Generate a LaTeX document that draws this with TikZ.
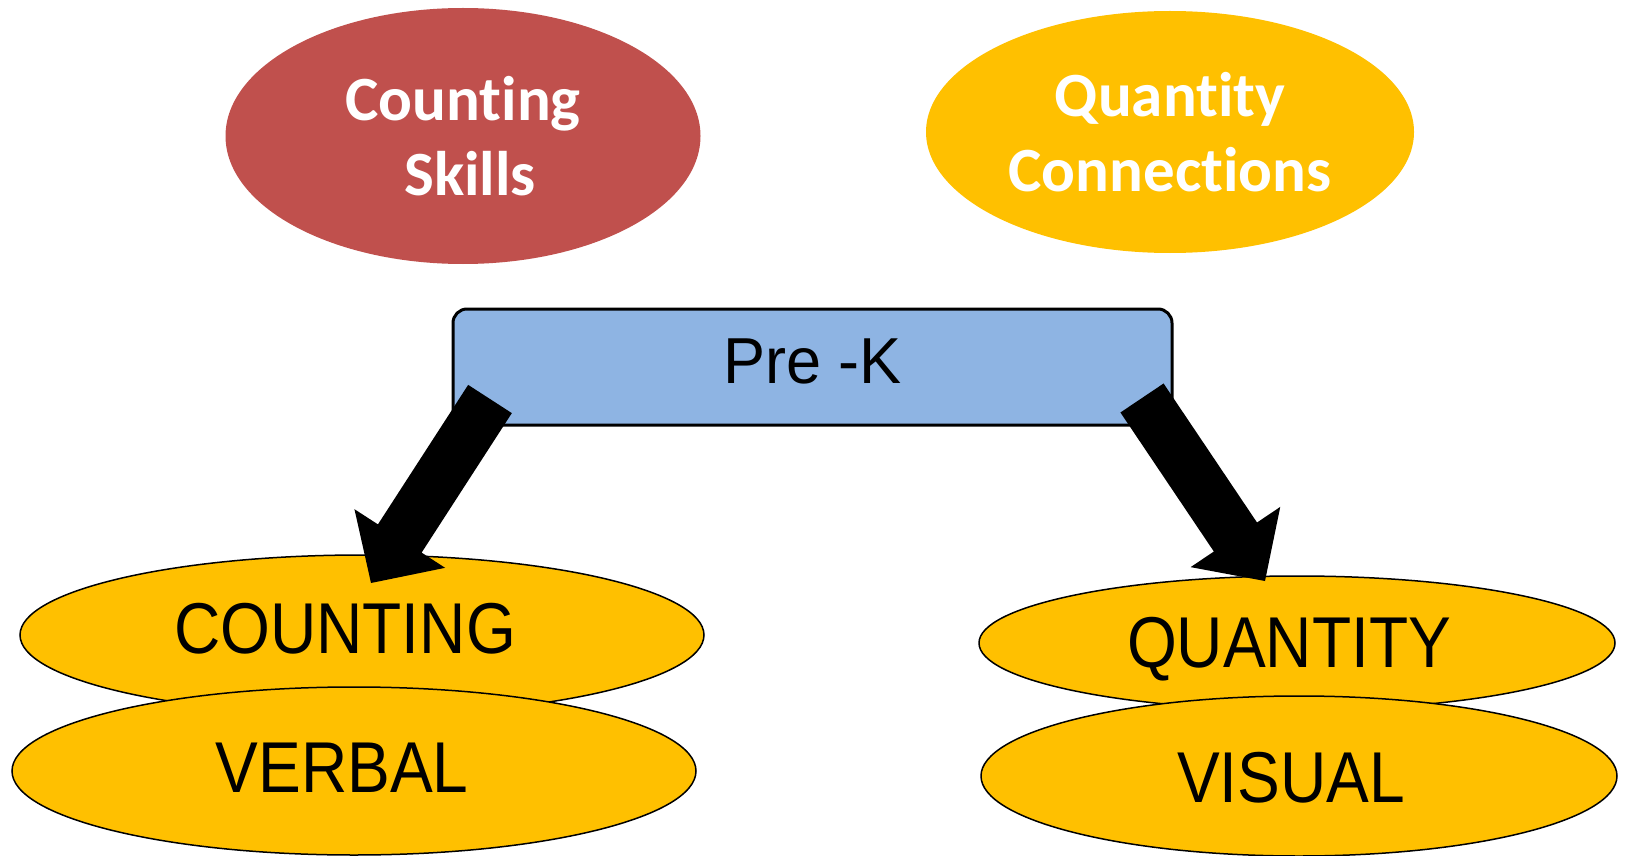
\documentclass[tikz,border=0pt]{standalone}
\usepackage{fontspec}
\setmainfont{Liberation Sans}
\newfontfamily\labelfont[FakeStretch=0.89]{Liberation Sans}
\newfontfamily\gradefont[FakeStretch=0.97]{Liberation Sans}
\newfontfamily\headfont[Ligatures=NoCommon]{Carlito}
\usetikzlibrary{shapes.geometric,calc}
\definecolor{skillred}{HTML}{C0504D}
\definecolor{gold}{HTML}{FFC000}
\definecolor{gradeblue}{HTML}{8EB4E3}

% wide block arrow from tail coordinate #1 to tip coordinate #2
\newcommand\drawblockarrow[2]{%
  \coordinate (#1-base) at ($(#2)!53pt!(#1)$);
  \fill[black] ($(#1)!26pt!90:(#2)$)
    -- ($(#1-base)!26pt!-90:(#1)$)
    -- ($(#1-base)!54pt!-90:(#1)$)
    -- (#2)
    -- ($(#1-base)!54pt!90:(#1)$)
    -- ($(#1-base)!26pt!90:(#1)$)
    -- ($(#1)!26pt!-90:(#2)$) -- cycle;}

\begin{document}
\begin{tikzpicture}[x=1pt,y=-1pt,
  topoval/.style={ellipse, inner sep=0pt, text=white, align=center,
    font=\headfont\bfseries\fontsize{63}{75}\selectfont},
  oval/.style={ellipse, draw=black, line width=1.5pt, fill=gold, inner sep=0pt},
  ovaltext/.style={anchor=base, inner sep=0pt,
    font=\labelfont\fontsize{72}{76}\selectfont},
  gradebox/.style={rectangle, rounded corners=14pt, draw=black, line width=3pt,
    fill=gradeblue, inner sep=0pt, font=\gradefont\fontsize{65}{70}\selectfont},
]
\useasboundingbox (0,0) rectangle (1626,856);

% grade level box
\node[gradebox, minimum width=719pt, minimum height=116pt, text depth=12pt]
  (prek) at (812.5,367) {Pre -K};

% headline ovals
\node[topoval, fill=skillred, minimum width=475pt, minimum height=256pt]
  (skills) at (463,136) {Counting\\\hspace*{14pt}Skills};
\node[topoval, fill=gold, minimum width=488pt, minimum height=242pt]
  (conn) at (1170,132) {Quantity\\Connections};

% stacked ovals, left
\node[oval, minimum width=684pt, minimum height=160pt] (counting) at (362,635) {};
\node[ovaltext] (countingtext) at (345,653) {COUNTING};
\node[oval, minimum width=684pt, minimum height=168pt] (verbal) at (354,771) {};
\node[ovaltext] (verbaltext) at (342,792) {VERBAL};

% stacked ovals, right
\node[oval, minimum width=636pt, minimum height=134pt] (quantity) at (1297,643) {};
\node[ovaltext] (quantitytext) at (1289,667) {QUANTITY};
\node[oval, minimum width=636pt, minimum height=160pt] (visual) at (1299,776) {};
\node[ovaltext] (visualtext) at (1291,802) {VISUAL};

% arrows from the grade box down to the ovals
\coordinate (lt) at (490,399);
\coordinate (lh) at (371,583);
\coordinate (rt) at (1142,398);
\coordinate (rh) at (1265,581);
\drawblockarrow{lt}{lh}
\drawblockarrow{rt}{rh}
\end{tikzpicture}
\end{document}
